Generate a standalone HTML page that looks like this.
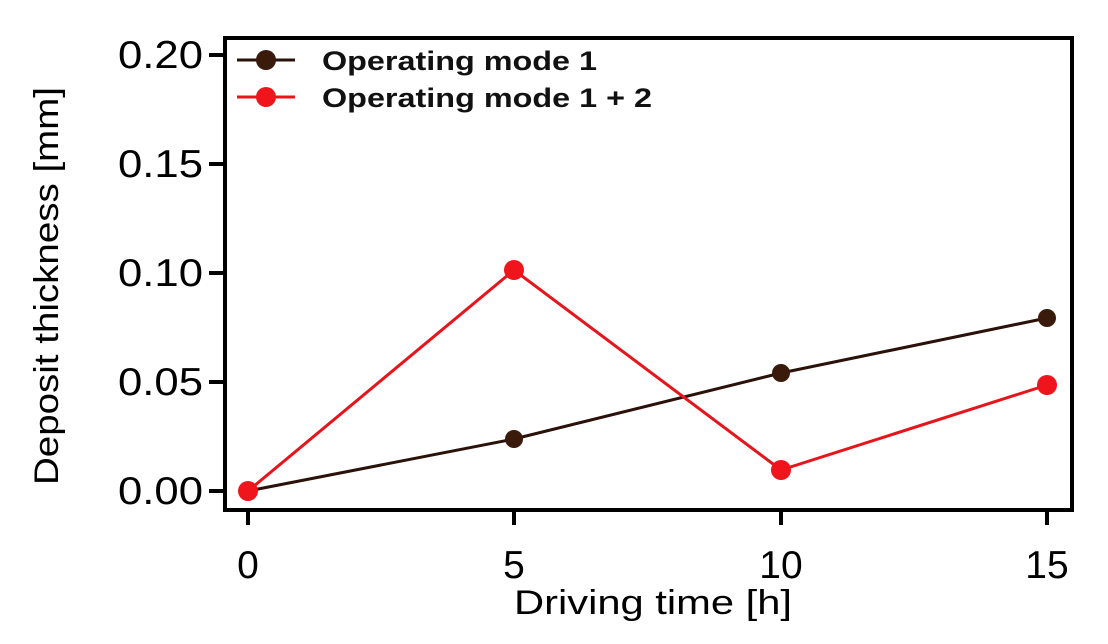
<!DOCTYPE html>
<html><head><style>body{margin:0;background:#fff}</style></head><body>
<svg width="1108" height="639" xmlns="http://www.w3.org/2000/svg" font-family="Liberation Sans, sans-serif">
<rect x="0" y="0" width="1108" height="639" fill="#fff"/>
<rect x="225" y="38" width="847" height="472" fill="none" stroke="#000" stroke-width="4"/>
<g stroke="#000" stroke-width="4">
<line x1="209" y1="55" x2="225" y2="55"/><line x1="209" y1="164" x2="225" y2="164"/>
<line x1="209" y1="273" x2="225" y2="273"/><line x1="209" y1="382" x2="225" y2="382"/>
<line x1="209" y1="491" x2="225" y2="491"/>
<line x1="248" y1="510" x2="248" y2="525"/><line x1="514" y1="510" x2="514" y2="525"/>
<line x1="781" y1="510" x2="781" y2="525"/><line x1="1047" y1="510" x2="1047" y2="525"/>
</g>
<g font-size="39" fill="#000">
<text x="118" y="68" textLength="85" lengthAdjust="spacingAndGlyphs">0.20</text>
<text x="118" y="177" textLength="85" lengthAdjust="spacingAndGlyphs">0.15</text>
<text x="118" y="286" textLength="85" lengthAdjust="spacingAndGlyphs">0.10</text>
<text x="118" y="395" textLength="85" lengthAdjust="spacingAndGlyphs">0.05</text>
<text x="118" y="504" textLength="85" lengthAdjust="spacingAndGlyphs">0.00</text>
</g>
<g font-size="39" fill="#000" text-anchor="middle">
<text x="248" y="578">0</text><text x="514" y="578">5</text><text x="781" y="578">10</text><text x="1047" y="578">15</text>
</g>
<text x="514" y="614" font-size="34" textLength="278" lengthAdjust="spacingAndGlyphs">Driving time  [h]</text>
<text transform="translate(58,485) rotate(-90)" font-size="34" textLength="398" lengthAdjust="spacingAndGlyphs">Deposit thickness  [mm]</text>
<polyline points="248,491 514,439 781,373 1047,318" fill="none" stroke="#2a120a" stroke-width="3"/>
<g fill="#3a1a0a"><circle cx="514" cy="439" r="9"/><circle cx="781" cy="373" r="9"/><circle cx="1047" cy="318" r="9"/></g>
<polyline points="248,491 514,270 781,470 1047,385" fill="none" stroke="#e8141c" stroke-width="3"/>
<g fill="#f0141c"><circle cx="248" cy="491" r="10"/><circle cx="514" cy="270" r="10"/><circle cx="781" cy="470" r="10"/><circle cx="1047" cy="385" r="10"/></g>
<line x1="237" y1="60" x2="295" y2="60" stroke="#2a120a" stroke-width="3"/><circle cx="266" cy="60" r="10" fill="#3a1a0a"/>
<line x1="237" y1="97" x2="295" y2="97" stroke="#e8141c" stroke-width="3"/><circle cx="266" cy="97" r="10" fill="#f0141c"/>
<g font-size="27" font-weight="bold" fill="#111">
<text x="322" y="70" textLength="275" lengthAdjust="spacingAndGlyphs">Operating mode 1</text>
<text x="322" y="107" textLength="330" lengthAdjust="spacingAndGlyphs">Operating mode 1 + 2</text>
</g>
</svg>
</body></html>
